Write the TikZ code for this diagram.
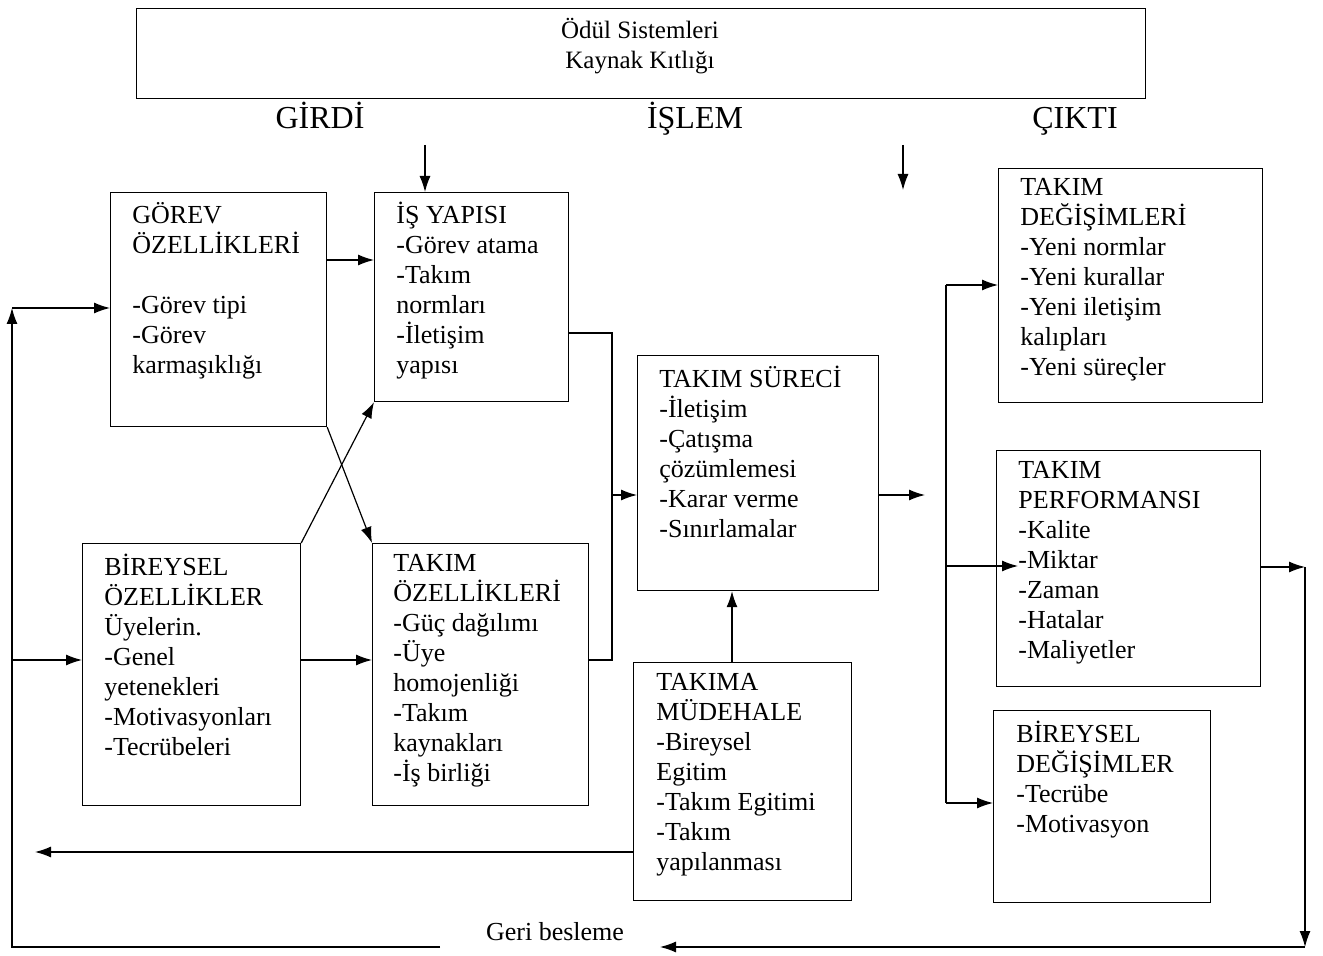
\documentclass[tikz,border=0pt]{standalone}
\usepackage{fontspec}
\setmainfont{Liberation Serif}
\usetikzlibrary{arrows.meta}

\begin{document}
\begin{tikzpicture}[x=0.5pt,y=-0.5pt,>={Latex[length=8pt,width=5.5pt]},
  kutu/.style={draw,line width=0.6pt,inner sep=0pt,anchor=north west},
  yazi/.style={anchor=north west,align=left,inner sep=0pt,
    font=\fontsize{13}{15}\selectfont,execute at begin node={\rule{0pt}{12pt}}},
  baslik/.style={anchor=base,font=\fontsize{16}{19}\selectfont},
  ok/.style={->,line width=0.6pt},
  cizgi/.style={line width=0.6pt}]

\useasboundingbox (0,0) rectangle (1323,956);

% Top frame
\node[kutu,minimum width=504.5pt,minimum height=45pt] (odul) at (136,8) {};
\node[align=center,font=\fontsize{12.5}{15}\selectfont] (odulyazi) at (640,46) {Ödül Sistemleri\\Kaynak Kıtlığı};

% Column headings
\node[baslik] (girdi) at (320,129) {GİRDİ};
\node[baslik] (islem) at (695,129) {İŞLEM};
\node[baslik] (cikti) at (1075,129) {ÇIKTI};

% Input boxes
\node[kutu,minimum width=108pt,minimum height=117pt] (gorev) at (110,192) {};
\node[yazi] (gorevyazi) at ([shift={(22,10)}]gorev.north west)
  {GÖREV\\ÖZELLİKLERİ\\[15pt]-Görev tipi\\-Görev\\karmaşıklığı};

\node[kutu,minimum width=97pt,minimum height=104.5pt] (isyapi) at (374,192) {};
\node[yazi] (isyapiyazi) at ([shift={(22,10)}]isyapi.north west)
  {İŞ YAPISI\\-Görev atama\\-Takım\\normları\\-İletişim\\yapısı};

\node[kutu,minimum width=109pt,minimum height=131pt] (bireysel) at (82,543) {};
\node[yazi] (bireyselyazi) at ([shift={(22,10.5)}]bireysel.north west)
  {BİREYSEL\\ÖZELLİKLER\\Üyelerin.\\-Genel\\yetenekleri\\-Motivasyonları\\-Tecrübeleri};

\node[kutu,minimum width=108pt,minimum height=131pt] (takimoz) at (372,543) {};
\node[yazi] (takimozyazi) at ([shift={(21,10.5)}]takimoz.north west)
  {TAKIM\\ÖZELLİKLERİ\\-Güç dağılımı\\-Üye\\homojenliği\\-Takım\\kaynakları\\-İş birliği};

% Process boxes
\node[kutu,minimum width=120.5pt,minimum height=117.5pt] (surec) at (637,355) {};
\node[yazi] (surecyazi) at ([shift={(22,10.5)}]surec.north west)
  {TAKIM SÜRECİ\\-İletişim\\-Çatışma\\çözümlemesi\\-Karar verme\\-Sınırlamalar};

\node[kutu,minimum width=109pt,minimum height=119pt] (mudahale) at (633,662) {};
\node[yazi] (mudahaleyazi) at ([shift={(23,11)}]mudahale.north west)
  {TAKIMA\\MÜDEHALE\\-Bireysel\\Egitim\\-Takım Egitimi\\-Takım\\yapılanması};

% Output boxes
\node[kutu,minimum width=132pt,minimum height=117pt] (degisim) at (998,168) {};
\node[yazi] (degisimyazi) at ([shift={(22,10)}]degisim.north west)
  {TAKIM\\DEĞİŞİMLERİ\\-Yeni normlar\\-Yeni kurallar\\-Yeni iletişim\\kalıpları\\-Yeni süreçler};

\node[kutu,minimum width=132pt,minimum height=118pt] (perf) at (996,450) {};
\node[yazi] (perfyazi) at ([shift={(22,10.5)}]perf.north west)
  {TAKIM\\PERFORMANSI\\-Kalite\\-Miktar\\-Zaman\\-Hatalar\\-Maliyetler};

\node[kutu,minimum width=108.5pt,minimum height=96pt] (birdeg) at (993,710) {};
\node[yazi] (birdegyazi) at ([shift={(23,11)}]birdeg.north west)
  {BİREYSEL\\DEĞİŞİMLER\\-Tecrübe\\-Motivasyon};

\node[font=\fontsize{13}{15}\selectfont] (geri) at (555,932) {Geri besleme};

% Helper points
\coordinate (ustok1) at (425,145);
\coordinate (ustok2) at (903,145);
\coordinate (ustok2b) at (903,190);
\coordinate (y260) at (0,260);
\coordinate (y333) at (0,333);
\coordinate (solust) at (12,308);
\coordinate (solorta) at (12,660);
\coordinate (solalt) at (12,947);
\coordinate (geriA) at (440,947);
\coordinate (geriB) at (660,947);
\coordinate (sagalt) at (1305,947);
\coordinate (sagust) at (1305,567);
\coordinate (bag) at (612,495);
\coordinate (cikis) at (925,495);
\coordinate (okx) at (732,0);
\coordinate (geri2) at (35,852);
\coordinate (busust) at (946,285);
\coordinate (busorta) at (946,566);
\coordinate (busalt) at (946,803);
\coordinate (miktar) at (1018,566);

% Top arrows
\draw[ok] (ustok1) -- (ustok1 |- isyapi.north);
\draw[ok] (ustok2) -- (ustok2b);

% Input links
\draw[ok] (gorev.east |- y260) -- (isyapi.west |- y260);
\draw[ok] (bireysel.east |- solorta) -- (takimoz.west |- solorta);
\draw[ok] (gorev.south east) -- (takimoz.north west);
\draw[ok] (bireysel.north east) -- (isyapi.south west);

% Into the process
\draw[cizgi] (isyapi.east |- y333) -| (bag);
\draw[cizgi] (takimoz.east |- solorta) -| (bag);
\draw[ok] (bag) -- (surec.west |- bag);
\draw[ok] (surec.east |- cikis) -- (cikis);
\draw[ok] (mudahale.north -| okx) -- (surec.south -| okx);
\draw[ok] (mudahale.west |- geri2) -- (geri2);

% Output bus
\draw[cizgi] (busust) -- (busalt);
\draw[ok] (busust) -- (degisim.west |- busust);
\draw[ok] (busorta) -- (miktar);
\draw[ok] (busalt) -- (birdeg.west |- busalt);

% Feedback loop
\draw[ok] (perf.east |- sagust) -- (sagust);
\draw[ok] (sagust) -- (sagalt);
\draw[ok] (sagalt) -- (geriB);
\draw[ok] (geriA) -- (solalt) -- (solust);
\draw[ok] (solust) -- (gorev.west |- solust);
\draw[ok] (solorta) -- (bireysel.west |- solorta);

\end{tikzpicture}
\end{document}
